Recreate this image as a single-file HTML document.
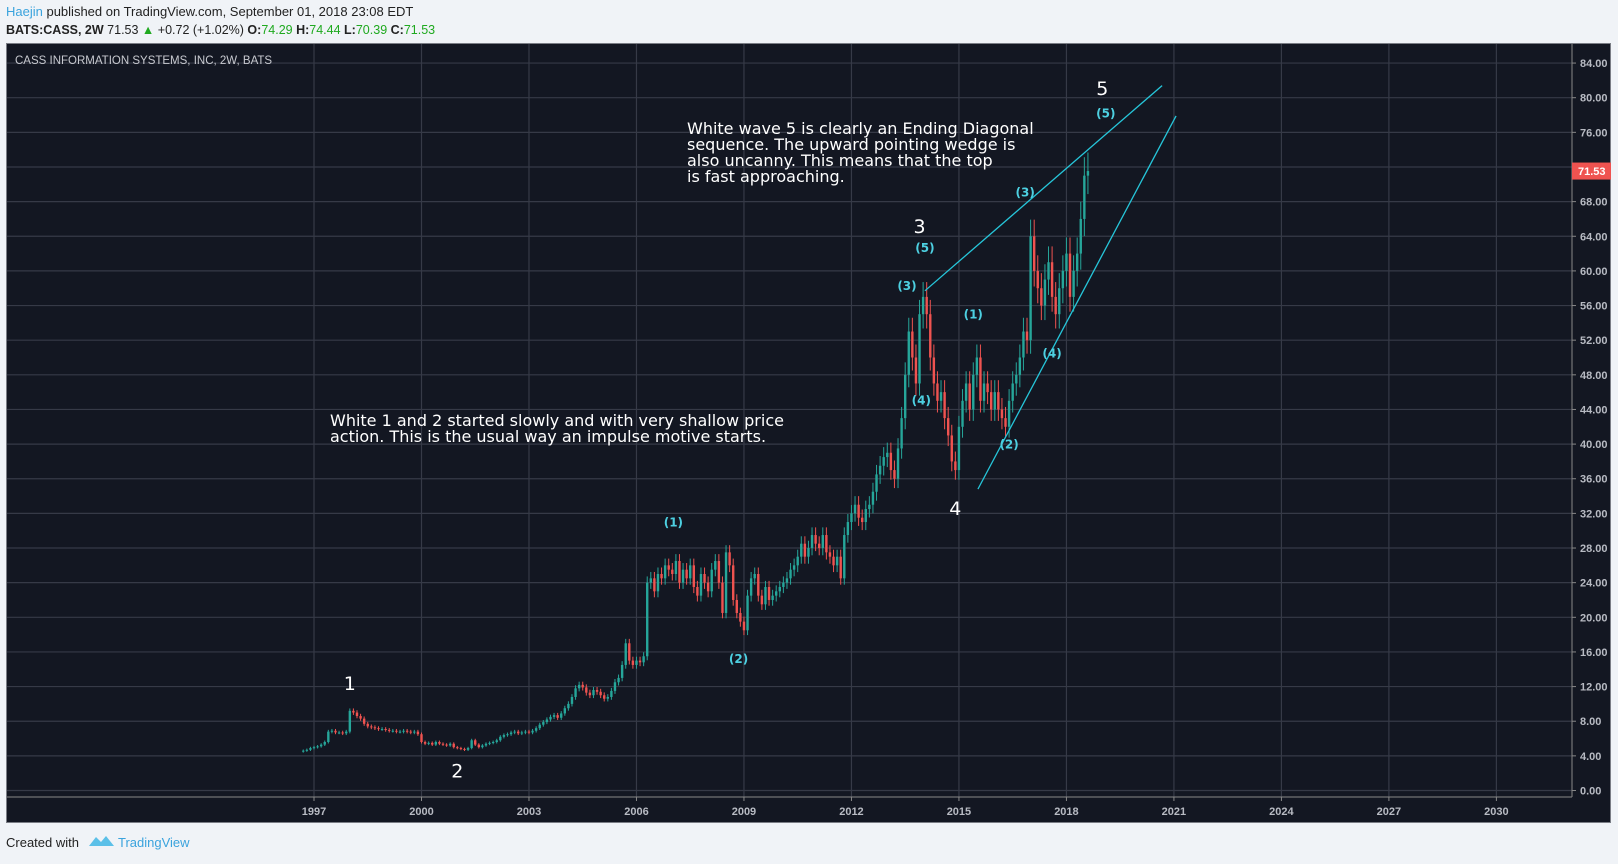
<!DOCTYPE html>
<html><head><meta charset="utf-8"><style>
body{margin:0;width:1618px;height:859px;background:#f0f3f7;overflow:hidden;font-family:"Liberation Sans",sans-serif}
</style></head><body>
<svg id="c" width="1618" height="859" xmlns="http://www.w3.org/2000/svg">
<text x="6" y="16" font-size="13" fill="#222"><tspan fill="#3aa3dd">Haejin</tspan> published on TradingView.com, September 01, 2018 23:08 EDT</text>
<text x="6" y="34" font-size="12.5" fill="#222"><tspan font-weight="bold">BATS:CASS, 2W</tspan>  71.53 <tspan fill="#1fa91f">▲</tspan> +0.72 (+1.02%) <tspan font-weight="bold">O:</tspan><tspan fill="#1fa91f">74.29</tspan> <tspan font-weight="bold">H:</tspan><tspan fill="#1fa91f">74.44</tspan> <tspan font-weight="bold">L:</tspan><tspan fill="#1fa91f">70.39</tspan> <tspan font-weight="bold">C:</tspan><tspan fill="#1fa91f">71.53</tspan></text>
<rect x="6.5" y="43.5" width="1604" height="779" fill="#131722" stroke="#7a7d85"/>
<g id="grid"></g>
<g id="bars"></g>
<g id="ann"></g>
<text x="15" y="64" font-size="11.5" fill="#c8cad0">CASS INFORMATION SYSTEMS, INC, 2W, BATS</text>
<text x="6" y="847" font-size="13" fill="#222">Created with</text>
<path d="M89 846 L96 837 L101 842 L106 836 L114 846 Z" fill="#5bc0e8"/>
<text x="118" y="847" font-size="13" fill="#3aa3dd">TradingView</text>
</svg>
<script>
const startYear = 1996.7;
const stepYears = 0.1;
const closes = [4.6,4.7,4.9,5.0,5.1,5.3,5.6,
6.8,6.9,6.7,6.7,6.6,6.8,
9.2,9.0,8.6,8.3,7.7,7.4,7.3,7.2,7.1,7.1,
7.0,6.9,6.9,6.8,6.8,6.9,6.8,6.7,6.8,6.5,
5.6,5.4,5.5,5.3,5.6,5.4,5.3,5.2,5.4,5.0,
4.9,4.8,4.7,4.9,5.8,5.3,5.0,5.2,5.4,5.5,
5.6,5.8,6.2,6.4,6.5,6.7,6.8,6.6,6.7,6.8,
6.7,6.9,7.2,7.6,7.9,8.2,8.5,8.7,8.4,8.9,
9.5,10.0,10.8,11.8,12.2,11.9,11.3,11.0,11.6,11.4,
11.0,10.6,10.8,11.5,12.5,13.0,14.5,17.0,15.0,14.5,
15.0,14.8,15.5,24.0,24.5,23.0,25.0,24.5,26.0,25.5,
25.0,26.5,24.0,25.5,24.5,26.0,23.5,22.5,25.0,24.0,
23.0,25.5,26.5,24.0,20.5,27.5,26.0,22.0,20.5,19.5,
18.5,22.5,24.5,25.0,22.5,21.5,23.5,22.0,22.5,23.0,
23.5,24.0,24.5,25.5,26.0,27.0,28.5,27.0,28.0,29.5,
28.5,28.0,29.5,27.5,27.0,26.0,27.0,24.5,29.5,31.0,
32.0,33.0,31.5,31.0,32.5,33.0,34.5,36.5,37.5,38.5,
39.0,37.0,36.0,39.5,43.0,48.0,53.0,50.0,47.0,55.0,
57.0,55.0,50.0,47.0,45.0,46.0,43.0,41.0,38.0,37.0,
42.0,45.0,47.0,44.0,48.0,50.0,45.0,47.0,46.0,44.0,
46.0,44.0,43.0,42.0,45.0,47.0,48.0,50.0,53.0,52.0,
64.0,60.0,58.0,56.0,59.0,61.0,57.0,55.0,58.0,60.0,
62.0,57.0,60.0,62.0,66.0,71.0,71.53];
const priceTicks = [0,4,8,12,16,20,24,28,32,36,40,44,48,52,56,60,64,68,72,76,80,84];
const yearTicks = [1997,2000,2003,2006,2009,2012,2015,2018,2021,2024,2027,2030];
const lastPrice = 71.53;
const upperLine = [[2014.05,57.7],[2020.67,81.4]];
const lowerLine = [[2015.53,34.8],[2021.06,77.9]];
const waveLabels = [["1",1998.0,11.6,true],["2",2001.0,1.5,true],["3",2013.9,64.4,true],["4",2014.9,31.8,true],["5",2019.0,80.3,true],
["(1)",2007.03,30.5,false],["(2)",2008.85,14.7,false],["(3)",2013.55,57.8,false],["(5)",2014.05,62.2,false],["(4)",2013.95,44.6,false],
["(1)",2015.4,54.5,false],["(2)",2016.4,39.5,false],["(3)",2016.85,68.6,false],["(4)",2017.6,50.0,false],["(5)",2019.1,77.7,false]];
const NS="http://www.w3.org/2000/svg";
const X=y=>314+(y-1997)*35.83;
const Y=p=>790.5-p*8.66;
function mk(tag,attrs,parent){const e=document.createElementNS(NS,tag);for(const k in attrs)e.setAttribute(k,attrs[k]);parent.appendChild(e);return e;}
const grid=document.getElementById('grid'),bars=document.getElementById('bars'),ann=document.getElementById('ann');
priceTicks.forEach(p=>{
 const l=mk('line',{x1:7,x2:1572,y1:Y(p),y2:Y(p),stroke:'#363a47','stroke-width':1.2},grid);
 
 
 mk('line',{x1:1572,x2:1576,y1:Y(p),y2:Y(p),stroke:'#888'},grid);
 const t=mk('text',{x:1580,y:Y(p)+4,'font-size':11,'font-weight':'bold',fill:'#b8bbc3'},grid);t.textContent=p.toFixed(2);
 
 
});
yearTicks.forEach(yr=>{
 const l=mk('line',{x1:X(yr),x2:X(yr),y1:44,y2:797,stroke:'#363a47','stroke-width':1.2},grid);
 
 
 mk('line',{x1:X(yr),x2:X(yr),y1:797,y2:801,stroke:'#888'},grid);
 const t=mk('text',{x:X(yr),y:815,'font-size':11,'font-weight':'bold',fill:'#b8bbc3','text-anchor':'middle'},grid);t.textContent=yr;
 
 
});
mk('line',{x1:1572,x2:1572,y1:44,y2:797,stroke:'#888'},grid);
mk('line',{x1:7,x2:1572,y1:797,y2:797,stroke:'#888'},grid);
closes.forEach((c,i)=>{
 const o=i?closes[i-1]:c*0.98;const x=X(startYear+i*stepYears);
 const hi=Math.max(o,c)*1.03,lo=Math.min(o,c)*0.97;
 const col=c>=o?'#26a69a':'#ef5350';
 mk('line',{x1:x,x2:x,y1:Y(hi),y2:Y(lo),stroke:col,'stroke-width':1},bars);
 const r=mk('rect',{x:x-1.2,y:Y(Math.max(o,c)),width:2.4,height:Math.max(1,Math.abs(Y(o)-Y(c))),fill:col},bars);
 
 
});
const pl=mk('rect',{x:1572,y:Y(lastPrice)-8.5,width:39,height:17,fill:'#ef5350'},ann);


const pt=mk('text',{x:1578,y:Y(lastPrice)+4,'font-size':11,'font-weight':'bold',fill:'#fff'},ann);pt.textContent=lastPrice.toFixed(2);
[upperLine,lowerLine].forEach((L,k)=>{
 const l=mk('line',{x1:X(L[0][0]),y1:Y(L[0][1]),x2:X(L[1][0]),y2:Y(L[1][1]),stroke:'#26c6da','stroke-width':1.3},ann);
 
 
});
waveLabels.forEach(w=>{
 const t=mk('text',{x:X(w[1]),y:Y(w[2]),'text-anchor':'middle','font-family':'DejaVu Sans, sans-serif','font-size':w[3]?19:12,'font-weight':w[3]?'normal':'bold',fill:w[3]?'#fff':'#4dd0e1'},ann);
 t.textContent=w[0];
 
 
});
function note(lines,x,y,name){
 lines.forEach((s,i)=>{const t=mk('text',{x:x,y:y+i*16,'font-family':'DejaVu Sans, sans-serif','font-size':16,fill:'#fff'},ann);t.textContent=s;
 
 });
}
note(["White wave 5 is clearly an Ending Diagonal","sequence. The upward pointing wedge is","also uncanny. This means that the top","is fast approaching."],687,134,'wave5-note');
note(["White 1 and 2 started slowly and with very shallow price","action. This is the usual way an impulse motive starts."],330,426,'wave12-note');
</script>
</body></html>
